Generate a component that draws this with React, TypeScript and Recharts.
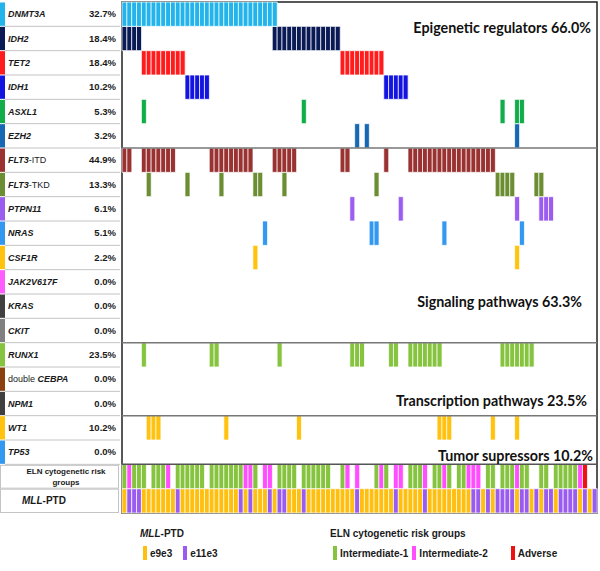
import { BarChart, Bar, Cell, XAxis, YAxis, ReferenceLine, ReferenceArea } from "recharts";

// 98 patients, one column each
const SAMPLE_COUNT = 98;
const sampleIds = Array.from({ length: SAMPLE_COUNT }, (_, i) => i);

const geneRows = [
  "DNMT3A", "IDH2", "TET2", "IDH1", "ASXL1", "EZH2",
  "FLT3-ITD", "FLT3-TKD", "PTPN11", "NRAS", "CSF1R", "JAK2V617F", "KRAS", "CKIT",
  "RUNX1", "double CEBPA", "NPM1",
  "WT1", "TP53",
];
const genePercents = [
  "32.7%", "18.4%", "18.4%", "10.2%", "5.3%", "3.2%",
  "44.9%", "13.3%", "6.1%", "5.1%", "2.2%", "0.0%", "0.0%", "0.0%",
  "23.5%", "0.0%", "0.0%",
  "10.2%", "0.0%",
];
const geneColors = [
  "#22b4ea", "#0a1a55", "#ff1c1c", "#1414e0", "#12ad4b", "#1668b5",
  "#9a3232", "#6b8e33", "#9b5cf0", "#3399f0", "#ffc20e", "#ff5cff", "#404040", "#808080",
  "#86c440", "#8b4010", "#404040",
  "#ffc20e", "#3399f0",
];

// mutated samples per gene
const mutDNMT3A = [0, 1, 2, 3, 4, 5, 6, 7, 8, 9, 10, 11, 12, 13, 14, 15, 16, 17, 18, 19, 20, 21, 22, 23, 24, 25, 26, 27, 28, 29, 30, 31];
const mutIDH2 = [0, 1, 2, 3, 31, 32, 33, 34, 35, 36, 37, 38, 39, 40, 41, 42, 43, 44];
const mutTET2 = [4, 5, 6, 7, 8, 9, 10, 11, 12, 45, 46, 47, 48, 49, 50, 51, 52, 53];
const mutIDH1 = [13, 14, 15, 16, 17, 54, 55, 56, 57, 58];
const mutASXL1 = [4, 37, 78, 81, 82];
const mutEZH2 = [48, 50, 81];
const mutFLT3ITD = [0, 1, 4, 5, 6, 7, 8, 9, 10, 18, 19, 20, 21, 22, 23, 24, 25, 26, 31, 32, 33, 34, 35, 45, 46, 54, 59, 60, 61, 62, 63, 64, 65, 66, 67, 68, 69, 70, 71, 72, 73, 74, 75, 76];
const mutFLT3TKD = [5, 13, 20, 27, 28, 33, 52, 77, 78, 79, 80, 85, 86];
const mutPTPN11 = [47, 57, 81, 86, 87, 88];
const mutNRAS = [29, 51, 52, 66, 82];
const mutCSF1R = [27, 81];
const mutJAK2 = [];
const mutKRAS = [];
const mutCKIT = [];
const mutRUNX1 = [4, 18, 19, 32, 47, 48, 49, 55, 56, 59, 60, 61, 62, 63, 64, 65, 78, 79, 80, 81, 82, 83, 84];
const mutCEBPA = [];
const mutNPM1 = [];
const mutWT1 = [5, 6, 7, 21, 36, 65, 66, 67, 76, 81];
const mutTP53 = [];

const geneMutations = [
  mutDNMT3A, mutIDH2, mutTET2, mutIDH1, mutASXL1, mutEZH2,
  mutFLT3ITD, mutFLT3TKD, mutPTPN11, mutNRAS, mutCSF1R, mutJAK2, mutKRAS, mutCKIT,
  mutRUNX1, mutCEBPA, mutNPM1,
  mutWT1, mutTP53,
];

// ELN cytogenetic risk groups (blank = none of these)
const elnInt1 = [0, 2, 3, 4, 6, 7, 8, 11, 12, 13, 14, 15, 16, 18, 19, 20, 21, 22, 23, 24, 27, 32, 33, 34, 35, 37, 38, 39, 40, 41, 42, 45, 52, 54, 59, 60, 61, 64, 65, 67, 69, 70, 75, 76, 78, 79, 80, 82, 83, 86, 87, 89, 90, 91, 92, 93];
const elnInt2 = [1, 9, 25, 26, 29, 30, 46, 48, 53, 56, 57, 62, 66, 71, 72, 73, 81, 94];
const elnAdverse = [95];

// MLL-PTD transcript types
const mllE9e3 = [0, 4, 5, 6, 7, 8, 9, 10, 12, 13, 14, 15, 16, 17, 18, 19, 20, 21, 22, 23, 25, 27, 28, 29, 31, 34, 35, 36, 38, 39, 40, 41, 42, 43, 44, 45, 46, 47, 49, 50, 51, 52, 53, 54, 55, 57, 58, 59, 60, 61, 63, 64, 65, 66, 67, 68, 69, 70, 71, 74, 76, 81, 84, 86, 89, 94, 96];
const mllE11e3 = [1, 2, 3, 11, 24, 26, 30, 32, 33, 37, 48, 56, 62, 72, 73, 75, 77, 78, 79, 80, 82, 83, 85, 87, 88, 90, 91, 92, 93, 95, 97];

const groupLabels = ["Epigenetic regulators 66.0%", "Signaling pathways 63.3%", "Transcription pathways 23.5%", "Tumor supressors 10.2%"];

const C_INT1 = "#86c440";
const C_INT2 = "#ff4dff";
const C_ADV = "#ee1111";
const C_E9E3 = "#ffbf0f";
const C_E11E3 = "#9a5cf0";

const ROW_COUNT = geneRows.length + 2;
const CHART_W = 600;
const CHART_H = 515;
const MARGIN = { top: 2, right: 3, bottom: 2, left: 2 };
const PLOT_H = CHART_H - MARGIN.top - MARGIN.bottom;
const ROW_H = PLOT_H / ROW_COUNT;
const FONT = "'Liberation Sans', Arial, sans-serif";

const data = sampleIds.map((id) => {
  const row: Record<string, number> = { id };
  for (let r = 0; r < ROW_COUNT; r++) row["r" + r] = 1;
  return row;
});

function cellColor(r: number, id: number) {
  if (r < geneRows.length) return geneMutations[r].includes(id) ? geneColors[r] : null;
  if (r === geneRows.length) {
    if (elnInt1.includes(id)) return C_INT1;
    if (elnInt2.includes(id)) return C_INT2;
    if (elnAdverse.includes(id)) return C_ADV;
    return null;
  }
  if (mllE9e3.includes(id)) return C_E9E3;
  if (mllE11e3.includes(id)) return C_E11E3;
  return null;
}

function GeneName({ name }: { name: string }) {
  if (name.startsWith("double ")) {
    return (
      <>
        <tspan fontWeight="normal">double </tspan>
        <tspan fontStyle="italic">{name.slice(7)}</tspan>
      </>
    );
  }
  const dash = name.indexOf("-");
  if (dash > 0) {
    return (
      <>
        <tspan fontStyle="italic">{name.slice(0, dash)}</tspan>
        <tspan fontWeight="normal">{name.slice(dash)}</tspan>
      </>
    );
  }
  return <tspan fontStyle="italic">{name}</tspan>;
}

// eslint-disable-next-line @typescript-eslint/no-explicit-any
const RowTick = ({ y, payload }: any) => {
  const r = ROW_COUNT - 1 - Math.floor(payload.value);
  const top = y - ROW_H / 2;
  if (r < geneRows.length) {
    return (
      <g>
        <rect x={0} y={top + 0.5} width={5} height={ROW_H - 1} fill={geneColors[r]} />
        <line x1={5} x2={120} y1={top + ROW_H} y2={top + ROW_H} stroke="#c4c4c4" strokeWidth={1} />
        <text x={8} y={y} dy="0.35em" fontFamily={FONT} fontSize={9} fontWeight="bold" fill="#1a1a1a">
          <GeneName name={geneRows[r]} />
        </text>
        <text x={116} y={y} dy="0.35em" textAnchor="end" fontFamily={FONT} fontSize={9.5} fontWeight="bold" fill="#1a1a1a">
          {genePercents[r]}
        </text>
      </g>
    );
  }
  if (r === geneRows.length) {
    return (
      <g>
        <rect x={0.5} y={top + 1} width={118} height={ROW_H - 1.5} fill="none" stroke="#c4c4c4" />
        <text x={66} y={y - 5} dy="0.35em" textAnchor="middle" fontFamily={FONT} fontSize={8} fontWeight="bold" fill="#1a1a1a">
          ELN cytogenetic risk
        </text>
        <text x={66} y={y + 6} dy="0.35em" textAnchor="middle" fontFamily={FONT} fontSize={8} fontWeight="bold" fill="#1a1a1a">
          groups
        </text>
      </g>
    );
  }
  return (
    <g>
      <rect x={0.5} y={top + 0.5} width={118} height={ROW_H - 1} fill="none" stroke="#c4c4c4" />
      <text x={22} y={y} dy="0.35em" fontFamily={FONT} fontSize={10} fontWeight="bold" fill="#1a1a1a">
        <tspan fontStyle="italic">MLL</tspan>
        <tspan>-PTD</tspan>
      </text>
    </g>
  );
};

const rowTicks = Array.from({ length: ROW_COUNT }, (_, i) => i + 0.5);
const bottomUp = Array.from({ length: ROW_COUNT }, (_, i) => ROW_COUNT - 1 - i);

const groupLabelStyle = { fontFamily: "Lato, 'Open Sans', sans-serif", fontSize: 14.3, fontWeight: "bold", fill: "#111" };

function Swatch({ color }: { color: string }) {
  return <span style={{ display: "inline-block", width: 4, height: 14, background: color, marginRight: 3, verticalAlign: "middle" }} />;
}

export default function App() {
  return (
    <div style={{ position: "relative", width: 600, height: 571, background: "#fff" }}>
      <style>{`body{margin:0}`}</style>
      <BarChart
        width={CHART_W}
        height={CHART_H}
        data={data}
        margin={MARGIN}
        barCategoryGap={0}
        barGap={0}
      >
        <XAxis dataKey="id" hide />
        <YAxis
          type="number"
          domain={[0, ROW_COUNT]}
          ticks={rowTicks}
          interval={0}
          width={120}
          axisLine={false}
          tickLine={false}
          tick={<RowTick />}
        />
        {bottomUp.map((r) => (
          <Bar key={r} dataKey={"r" + r} stackId="m" isAnimationActive={false}>
            {sampleIds.map((id) => {
              const c = cellColor(r, id);
              return (
                <Cell
                  key={id}
                  fill={c ?? "none"}
                  stroke={c ? "rgba(255,255,255,0.75)" : "none"}
                  strokeWidth={1}
                />
              );
            })}
          </Bar>
        ))}
        <ReferenceLine y={ROW_COUNT - 6} stroke="#777" strokeWidth={1.5} />
        <ReferenceLine y={ROW_COUNT - 14} stroke="#777" strokeWidth={1.5} />
        <ReferenceLine y={ROW_COUNT - 17} stroke="#777" strokeWidth={1.5} />
        <ReferenceLine y={ROW_COUNT - 19} stroke="#555" strokeWidth={1.5} />
        <ReferenceLine y={19.95} stroke="none" label={{ value: groupLabels[0], position: "insideRight", offset: 6, ...groupLabelStyle }} />
        <ReferenceLine y={8.67} stroke="none" label={{ value: groupLabels[1], position: "insideRight", offset: 15, ...groupLabelStyle }} />
        <ReferenceLine y={4.6} stroke="none" label={{ value: groupLabels[2], position: "insideRight", offset: 10, ...groupLabelStyle }} />
        <ReferenceLine y={2.34} stroke="none" label={{ value: groupLabels[3], position: "insideRight", offset: 4, ...groupLabelStyle }} />
        <ReferenceArea y1={0} y2={ROW_COUNT} fill="none" stroke="#222" strokeWidth={1.5} ifOverflow="visible" />
      </BarChart>

      <div style={{ position: "absolute", left: 0, top: 0, width: 600, height: 571, pointerEvents: "none", fontFamily: FONT, fontSize: 10, fontWeight: "bold", color: "#1a1a1a" }}>
        <div style={{ position: "absolute", left: 140, top: 528 }}>
          <i>MLL</i>-PTD
        </div>
        <div style={{ position: "absolute", left: 143, top: 546, display: "flex", alignItems: "center" }}>
          <Swatch color={C_E9E3} />
          <span style={{ marginRight: 11 }}>e9e3</span>
          <Swatch color={C_E11E3} />
          <span>e11e3</span>
        </div>
        <div style={{ position: "absolute", left: 330, top: 528 }}>ELN cytogenetic risk groups</div>
        <div style={{ position: "absolute", left: 333, top: 546, display: "flex", alignItems: "center" }}>
          <Swatch color={C_INT1} />
          <span style={{ marginRight: 4 }}>Intermediate-1</span>
          <Swatch color={C_INT2} />
          <span style={{ marginRight: 23 }}>Intermediate-2</span>
          <Swatch color={C_ADV} />
          <span>Adverse</span>
        </div>
      </div>
    </div>
  );
}
